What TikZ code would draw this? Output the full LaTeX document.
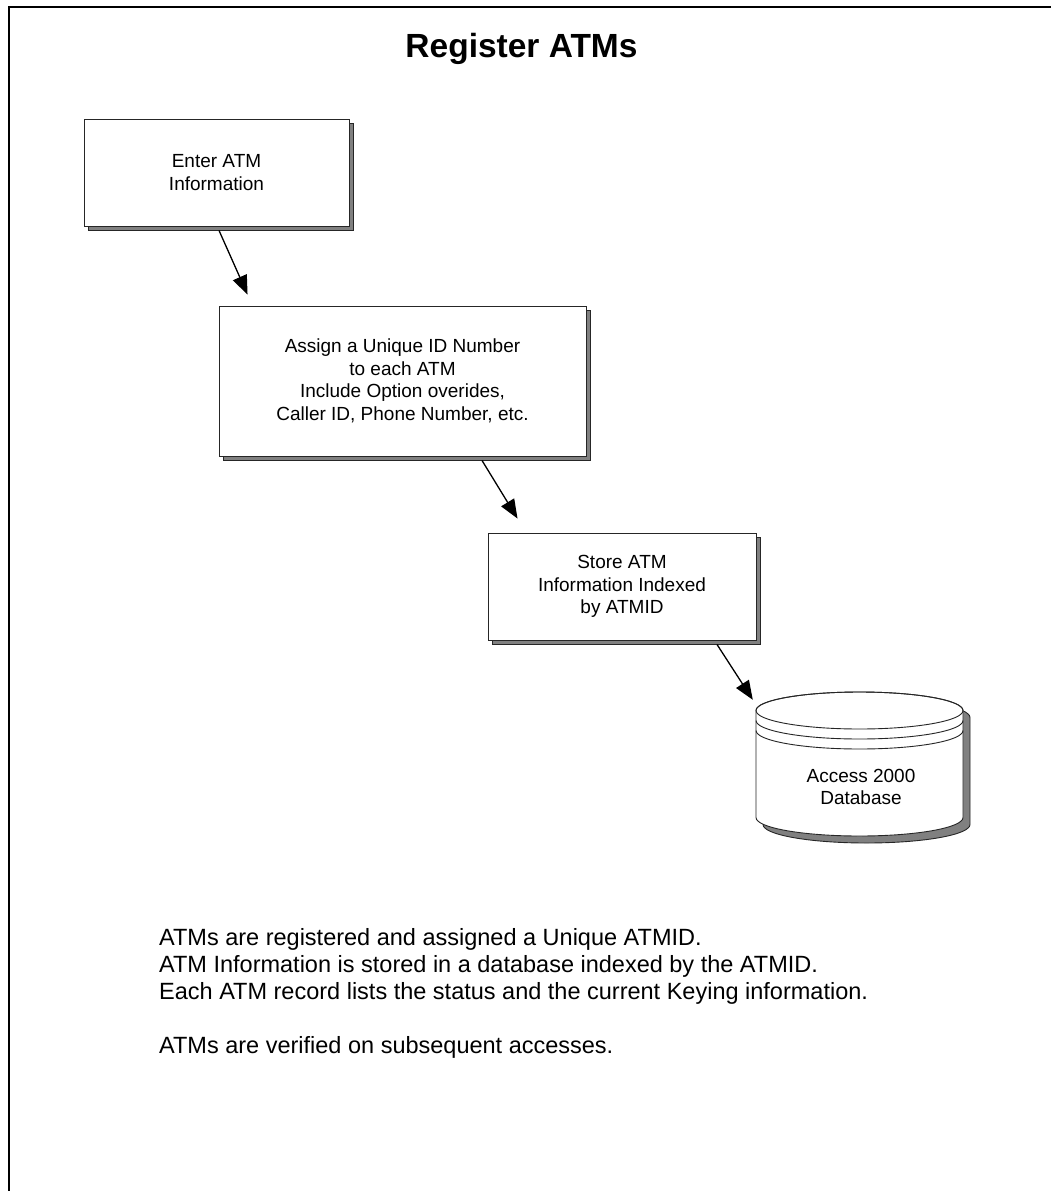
\documentclass[tikz,border=0pt]{standalone}
\usepackage{fontspec}
\setmainfont{Liberation Sans}
\usetikzlibrary{arrows.meta,shadows}
\begin{document}
\begin{tikzpicture}[x=1pt,y=-1pt,
  procbox/.style={rectangle, draw=black!85, line width=0.9pt, fill=white,
    align=center, inner sep=0pt, font=\fontsize{19}{22.5}\selectfont,
    general shadow={shadow xshift=4pt, shadow yshift=-4pt,
      fill=black!50, draw=black!85, line width=0.9pt}},
  flow/.style={line width=1.3pt, -{Triangle[length=19pt,width=15pt]}},
  frameline/.style={line width=2.8pt, line cap=rect},
  dbline/.style={draw=black!85, line width=0.9pt},
  dbshadow/.style={fill=black!50, draw=black!85, line width=0.9pt},
  bodytext/.style={font=\fontsize{23.5}{27}\selectfont, align=left, inner sep=0pt},
]
\useasboundingbox (0,0) rectangle (1050,1191);
\fill[white] (0,0) rectangle (1050,1191);

% page frame: left and top rules
\draw[frameline] (9,1195) -- (9,7) -- (1055,7);

% title
\node[anchor=base, inner sep=0pt, font=\fontsize{33.5}{37}\selectfont\bfseries] (title) at (521.5,57) {Register ATMs};

% process boxes
\node[procbox, minimum width=265pt, minimum height=107pt] (b1) at (216.5,172.5) {Enter ATM\\Information};
\node[procbox, minimum width=367pt, minimum height=150pt] (b2) at (402.5,381) {Assign a Unique ID Number\\to each ATM\\Include Option overides,\\Caller ID, Phone Number, etc.};
\node[procbox, minimum width=268pt, minimum height=107pt] (b3) at (622,586.5) {Store ATM\\Information Indexed\\by ATMID};

% database cylinder: shadow, body, lid and rims
\begin{scope}[shift={(7,7)}]
  \path[dbshadow] (756,710.5) arc[start angle=180, end angle=0, x radius=103.5pt, y radius=18.5pt]
    -- (963,817.5) arc[start angle=0, end angle=-180, x radius=103.5pt, y radius=18.5pt] -- cycle;
\end{scope}
\path[dbline, fill=white] (756,710.5) arc[start angle=180, end angle=0, x radius=103.5pt, y radius=18.5pt]
  -- (963,817.5) arc[start angle=0, end angle=-180, x radius=103.5pt, y radius=18.5pt] -- cycle;
\draw[dbline] (859.5,710.5) ellipse[x radius=103.5pt, y radius=18.5pt];
\draw[dbline] (756,720.5) arc[start angle=180, end angle=360, x radius=103.5pt, y radius=18.5pt];
\draw[dbline] (756,730.5) arc[start angle=180, end angle=360, x radius=103.5pt, y radius=18.5pt];
\node[minimum width=207pt, minimum height=144pt, inner sep=0pt] (db) at (859.5,764) {};
\node[align=center, inner sep=0pt, font=\fontsize{19}{22.5}\selectfont] (dblabel) at (861,787) {Access 2000\\Database};

% flow arrows
\draw[flow] ([xshift=2.5pt,yshift=-4pt]b1.south) -- ([xshift=29pt,yshift=11pt]b2.north west);
\draw[flow] ([xshift=79.5pt,yshift=-4pt]b2.south) -- ([xshift=30pt,yshift=14pt]b3.north west);
\draw[flow] ([xshift=95pt,yshift=-4pt]b3.south) -- ([xshift=-3pt,yshift=-8pt]db.north west);

% notes (the base anchor sits on the last line)
\node[bodytext, anchor=base west] (notes) at (159,1053) {ATMs are registered and assigned a Unique ATMID.\\
ATM Information is stored in a database indexed by the ATMID.\\
Each ATM record lists the status and the current Keying information.\\[27pt]
ATMs are verified on subsequent accesses.};
\end{tikzpicture}
\end{document}
